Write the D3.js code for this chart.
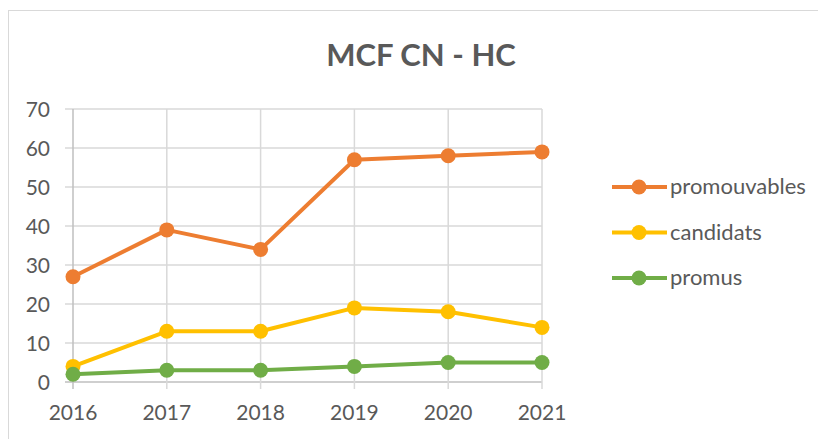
<!DOCTYPE html>
<html><head><meta charset="utf-8">
<script src="https://cdn.jsdelivr.net/npm/d3@7"></script>
<style>body{margin:0;background:#fff}svg{display:block}text{font-family:Lato,"Open Sans",sans-serif}</style>
</head><body><svg id="c" width="818" height="439"></svg>
<script>
const years = ["2016","2017","2018","2019","2020","2021"];
const promouvables = [27,39,34,57,58,59];
const candidats = [4,13,13,19,18,14];
const promus = [2,3,3,4,5,5];
const yTicks = [0,10,20,30,40,50,60,70];
const seriesNames = ["promouvables","candidats","promus"];
const seriesColors = ["#ED7D31","#FFC000","#70AD47"];
const seriesData = [promouvables,candidats,promus];

const svg = d3.select("#c");
svg.append("rect").attr("x",8.5).attr("y",10.5).attr("width",830).attr("height",450)
  .attr("fill","#fff").attr("stroke","#d9d9d9").attr("stroke-width",1);

const x = d3.scalePoint().domain(years).range([73,542]);
const y = d3.scaleLinear().domain([0,70]).range([382,109]);

svg.append("text").attr("x",421).attr("y",66).attr("text-anchor","middle")
  .attr("font-size",31).attr("font-weight","bold").attr("fill","#595959").text("MCF CN - HC");

const g = svg.append("g");
g.selectAll("line.h").data(yTicks).enter().append("line")
  .attr("x1",65).attr("x2",542).attr("y1",d=>y(d)).attr("y2",d=>y(d))
  .attr("stroke",d=>d===0?"#bfbfbf":"#d9d9d9").attr("stroke-width",1.5);
g.selectAll("line.v").data(years).enter().append("line")
  .attr("x1",d=>x(d)).attr("x2",d=>x(d)).attr("y1",y(70)).attr("y2",389)
  .attr("stroke",(d,i)=>i===0?"#bfbfbf":"#d9d9d9").attr("stroke-width",1.5);

g.selectAll("text.y").data(yTicks).enter().append("text")
  .attr("x",50).attr("y",d=>y(d)).attr("dy","0.36em").attr("text-anchor","end")
  .attr("font-size",21).attr("fill","#595959").text(d=>d);
g.selectAll("text.x").data(years).enter().append("text")
  .attr("x",d=>x(d)).attr("y",420).attr("text-anchor","middle")
  .attr("font-size",21).attr("fill","#595959").text(d=>d);

const line = d3.line().x((d,i)=>x(years[i])).y(d=>y(d));
seriesData.forEach((s,k)=>{
  svg.append("path").datum(s).attr("d",line).attr("fill","none")
    .attr("stroke",seriesColors[k]).attr("stroke-width",4).attr("stroke-linejoin","round");
  svg.append("g").selectAll("circle").data(s).enter().append("circle")
    .attr("cx",(d,i)=>x(years[i])).attr("cy",d=>y(d)).attr("r",7.5).attr("fill",seriesColors[k]);
});

const lg = svg.append("g");
seriesNames.forEach((n,k)=>{
  const cy = 187 + k*45.5;
  lg.append("line").attr("x1",612).attr("x2",667).attr("y1",cy).attr("y2",cy)
    .attr("stroke",seriesColors[k]).attr("stroke-width",4);
  lg.append("circle").attr("cx",639).attr("cy",cy).attr("r",7.5).attr("fill",seriesColors[k]);
  lg.append("text").attr("x",670).attr("y",cy).attr("dy","0.33em")
    .attr("font-size",22).attr("fill","#595959").text(n);
});
</script></body></html>
